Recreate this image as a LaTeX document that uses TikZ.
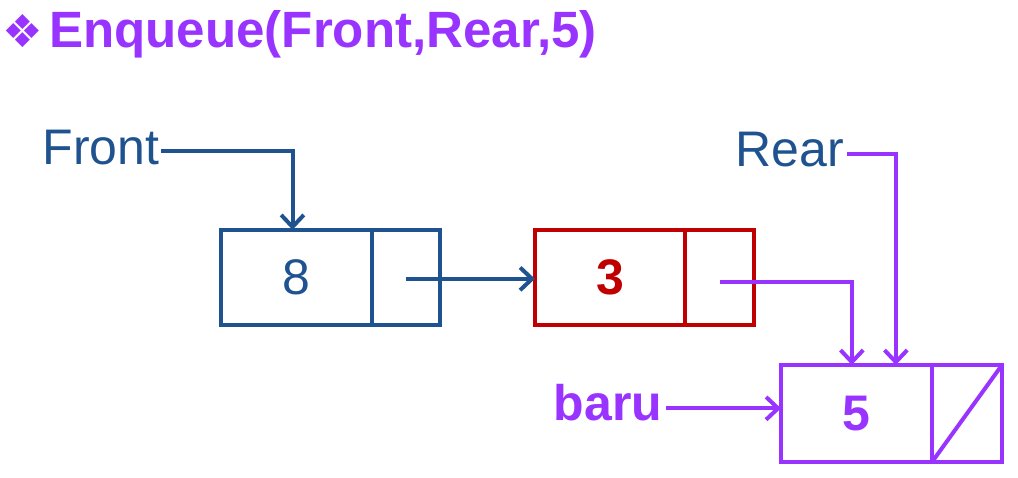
\documentclass[tikz,border=0pt]{standalone}
\usepackage{fontspec}
\setmainfont{Liberation Sans}
\newfontfamily\symfont{DejaVu Sans}
\usetikzlibrary{arrows.meta}
\definecolor{nblue}{HTML}{1F5390}
\definecolor{nred}{HTML}{C00000}
\definecolor{npurple}{HTML}{9933FF}
\tikzset{
  cellbox/.style={draw, line width=3pt, inner sep=0pt, outer sep=0pt, minimum height=71.5pt},
  big/.style={font=\fontsize{37.5}{45}\selectfont},
  bigb/.style={font=\fontsize{37.5}{45}\selectfont\bfseries},
  link/.style={line width=3pt, -{Straight Barb[length=9pt,width=17pt,line width=3pt]}},
}
\begin{document}
\begin{tikzpicture}[x=0.75pt,y=-0.75pt]
\useasboundingbox (0,0) rectangle (1018,478);
% title
\node[anchor=base west, inner sep=0pt, text=npurple, font=\fontsize{34}{40}\selectfont\symfont] (dia) at (2,48) {❖};
\node[anchor=base west, inner sep=0pt, text=npurple, font=\fontsize{38.3}{45}\selectfont\bfseries] (title) at (49,48) {Enqueue(Front,Rear,5)};
% node 1
\node[cellbox, draw=nblue, minimum width=113.25pt, text=nblue, big] (d1) at (296.5,277.5) {8};
\node[cellbox, draw=nblue, minimum width=51pt] (p1) at (406,277.5) {};
% node 2
\node[cellbox, draw=nred, minimum width=112.5pt, text=nred, bigb] (d2) at (610,277.5) {3};
\node[cellbox, draw=nred, minimum width=51.75pt] (p2) at (719.5,277.5) {};
% node 3
\node[cellbox, draw=npurple, minimum width=113.25pt, minimum height=72.75pt, text=npurple, bigb] (d3) at (856.5,413.5) {5};
\node[cellbox, draw=npurple, minimum width=52.5pt, minimum height=72.75pt] (p3) at (967,413.5) {};
\draw[npurple, line width=3pt] (p3.south west) -- (p3.north east);
% labels
\node[text=nblue, big, inner sep=0pt] (front) at (101,148) {Front};
\node[text=nblue, big, inner sep=0pt] (rear) at (790,150) {Rear};
\node[text=npurple, bigb, inner sep=0pt] (baru) at (608,403) {baru};
% connectors
\draw[link, nblue] ([xshift=1pt,yshift=-2pt]front.east) -| ([xshift=-3pt]d1.north);
\draw[link, nblue] ([yshift=-1pt]p1.center) -- ([yshift=-1pt]p1.center -| d2.west);
\draw[link, npurple] ([yshift=-3pt]p2.center) -| ([xshift=-3.5pt]d3.north);
\draw[link, npurple] ([xshift=2pt,yshift=-3pt]rear.east) -| ([xshift=29.5pt]d3.north);
\draw[link, npurple] ([xshift=3pt,yshift=-4pt]baru.east) -- ([yshift=-4pt]baru.east -| d3.west);
\end{tikzpicture}
\end{document}
